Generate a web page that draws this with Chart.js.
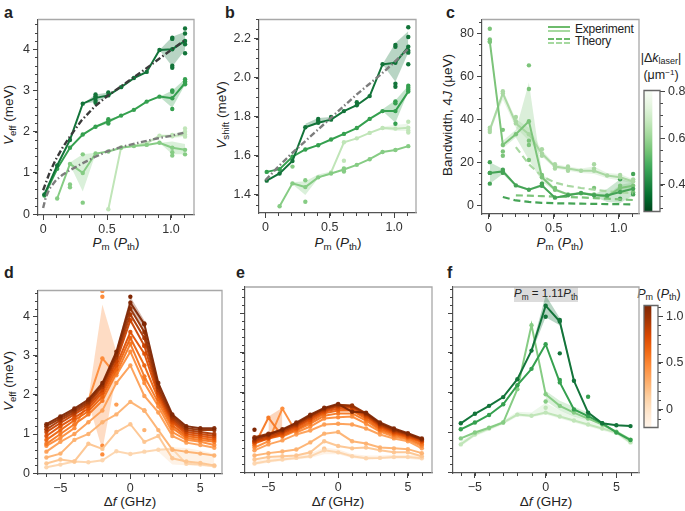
<!DOCTYPE html>
<html>
<head>
<meta charset="utf-8">
<script src="https://cdn.jsdelivr.net/npm/chart.js@4.4.1/dist/chart.umd.min.js"></script>
<style>
  body { margin: 0; background: #fff; width: 685px; height: 511px; position: relative; overflow: hidden;
         font-family: "Liberation Sans", Arial, sans-serif; color: #222; }
  canvas { position: absolute; }
  .t { position: absolute; font-size: 13.5px; white-space: nowrap; line-height: 1; }
  .t sub { font-size: 72%; vertical-align: -0.3em; line-height: 0; }
  .t sup { font-size: 65%; vertical-align: 0.5em; line-height: 0; }
  .c { transform: translate(-50%, -50%); }
  .rot { transform: translate(-50%, -50%) rotate(-90deg); }
  .lab { position: absolute; font-weight: bold; font-size: 16px; line-height: 1; }
</style>
</head>
<body>

<div class="lab" style="left:4px;top:5px">a</div>
<div class="lab" style="left:225px;top:5px">b</div>
<div class="lab" style="left:446px;top:5px">c</div>
<div class="lab" style="left:4px;top:265px">d</div>
<div class="lab" style="left:236px;top:265px">e</div>
<div class="lab" style="left:447px;top:265px">f</div>

<div class="t rot" style="left:9px;top:115px"><i>V</i><sub>eff</sub> (meV)</div>
<div class="t rot" style="left:222px;top:115px"><i>V</i><sub>shift</sub> (meV)</div>
<div class="t rot" style="left:448px;top:115px">Bandwidth, 4<i>J</i> (μeV)</div>
<div class="t rot" style="left:9px;top:381px"><i>V</i><sub>eff</sub> (meV)</div>

<div class="t c" style="left:116px;top:243px"><i>P</i><sub>m</sub> (<i>P</i><sub>th</sub>)</div>
<div class="t c" style="left:338px;top:243px"><i>P</i><sub>m</sub> (<i>P</i><sub>th</sub>)</div>
<div class="t c" style="left:560px;top:243px"><i>P</i><sub>m</sub> (<i>P</i><sub>th</sub>)</div>
<div class="t c" style="left:130px;top:502px">Δ<i>f</i> (GHz)</div>
<div class="t c" style="left:338px;top:502px">Δ<i>f</i> (GHz)</div>
<div class="t c" style="left:546px;top:502px">Δ<i>f</i> (GHz)</div>

<div class="t c" style="left:661px;top:58px;font-size:12.5px">|Δ<i>k</i><sub>laser</sub>|</div>
<div class="t c" style="left:661px;top:75px;font-size:12.5px">(μm<sup>−1</sup>)</div>
<div class="t c" style="left:659px;top:294px;font-size:12.5px"><i>P</i><sub>m</sub> (<i>P</i><sub>th</sub>)</div>

<!-- legend panel c -->
<div style="position:absolute;left:548px;top:26px;width:22px;height:2px;background:#6dbb6c"></div>
<div style="position:absolute;left:548px;top:30px;width:22px;height:2px;background:#a6d9a0"></div>
<div style="position:absolute;left:548px;top:38px;width:22px;border-top:2px dashed #6dbb6c"></div>
<div style="position:absolute;left:548px;top:42px;width:22px;border-top:2px dashed #a6d9a0"></div>
<div class="t" style="left:575px;top:23px;font-size:12px;letter-spacing:-0.2px">Experiment</div>
<div class="t" style="left:575px;top:35px;font-size:12px;letter-spacing:-0.2px">Theory</div>

<!-- annotation panel f -->
<div style="position:absolute;left:514px;top:287px;width:64px;height:15px;background:#dcdcdc"></div>
<div class="t c" style="left:546px;top:294px;font-size:11.5px"><i>P</i><sub>m</sub> = 1.11<i>P</i><sub>th</sub></div>

<canvas id="ca"></canvas>
<canvas id="cb"></canvas>
<canvas id="cc"></canvas>
<canvas id="cd"></canvas>
<canvas id="ce"></canvas>
<canvas id="cf"></canvas>
<canvas id="cbarC"></canvas>
<canvas id="cbarF"></canvas>

<script>
// ---------- data ----------
// pump power P_m in units of P_th (panels a-c)
const pm = [0.01, 0.11, 0.21, 0.31, 0.41, 0.51, 0.61, 0.71, 0.81, 0.91, 1.01, 1.11];
// detuning in GHz (panels d-f)
const df = [-6, -5, -4, -3, -2, -1, 0, 1, 2, 3, 4, 5, 6];

// panel a: V_eff, darkest -> lightest green
const aVeff = [
  [0.48, 1.18, 1.80, 2.68, 2.82, 2.88, 3.08, 3.30, 3.45, 3.98, 4.00, 4.20],
  [0.45, 1.10, 1.61, 1.93, 2.12, 2.25, 2.39, 2.53, 2.73, 2.85, 2.81, 3.18],
  [null, 0.38, 1.22, 1.00, 1.47, 1.52, 1.61, 1.65, 1.68, 1.73, 1.61, 1.56],
  [null, null, null, null, null, 0.12, 1.62, 1.66, 1.72, 1.90, 1.89, 1.93]
];
const aLo = [
  [null, null, null, 2.68, 2.72, 2.85, null, null, null, 3.98, 3.58, 3.98],
  [null, null, null, null, 2.10, 2.20, 2.38, null, null, 2.85, 2.58, 3.14],
  [null, 0.38, 1.20, 0.55, 1.45, null, null, null, null, 1.73, 1.45, 1.45],
  [null, null, null, null, null, null, null, null, null, 1.88, 1.84, 1.88]
];
const aHi = [
  [null, null, null, 2.68, 2.90, 2.95, null, null, null, 3.98, 4.30, 4.42],
  [null, null, null, null, 2.14, 2.30, 2.40, null, null, 2.85, 3.00, 3.28],
  [null, 0.38, 1.25, 1.45, 1.49, null, null, null, null, 1.73, 1.76, 1.70],
  [null, null, null, null, null, null, null, null, null, 1.92, 1.95, 2.02]
];
const aDots = [
  [[0.41, 2.90], [0.41, 2.86], [0.41, 2.75], [0.41, 2.70], [0.51, 2.95], [1.01, 4.28], [1.01, 4.25], [1.01, 3.60], [1.01, 3.55], [1.11, 4.50], [1.11, 4.38], [1.11, 4.12], [1.11, 3.90]],
  [[0.51, 2.30], [0.51, 2.20], [1.01, 3.00], [1.01, 2.97], [1.01, 2.55], [1.11, 3.27], [1.11, 3.22], [1.11, 3.15]],
  [[0.21, 0.72], [0.21, 0.65], [0.31, 1.45], [0.31, 0.28], [1.01, 1.50], [1.01, 1.42], [1.11, 1.45]],
  [[1.01, 1.92], [1.11, 2.08], [1.11, 2.00], [1.11, 1.88]]
];
// theory curves panel a
const aFitX = [0.0, 0.02, 0.05, 0.1, 0.15, 0.2, 0.3, 0.4, 0.5, 0.6, 0.7, 0.8, 0.9, 1.0, 1.11];
const aFitHigh = [0.58, 0.75, 1.00, 1.33, 1.60, 1.84, 2.27, 2.60, 2.86, 3.08, 3.30, 3.52, 3.75, 3.98, 4.22];
const aFitLow = [0.15, 0.40, 0.62, 0.82, 0.95, 1.05, 1.22, 1.38, 1.52, 1.62, 1.70, 1.77, 1.84, 1.90, 1.98];

// panel b: V_shift
const bVshift = [
  [1.473, 1.510, 1.574, 1.747, 1.770, 1.786, 1.830, 1.860, 1.907, 2.070, 2.078, 2.160],
  [1.518, 1.532, 1.596, 1.633, 1.655, 1.684, 1.713, 1.743, 1.790, 1.830, 1.830, 1.930],
  [null, 1.342, 1.459, 1.440, 1.490, 1.510, 1.530, 1.554, 1.583, 1.620, 1.630, 1.650],
  [null, null, null, null, null, 1.515, 1.670, 1.690, 1.718, 1.743, 1.740, 1.745]
];
const bLo = [
  [null, null, null, 1.745, 1.765, 1.780, null, null, null, 2.070, 1.980, 2.130],
  [null, null, null, null, null, null, null, null, null, 1.830, 1.770, 1.930],
  [null, null, 1.455, 1.400, 1.485, 1.505, null, null, null, null, null, null],
  [null, null, null, null, null, null, null, null, null, 1.738, 1.728, 1.728]
];
const bHi = [
  [null, null, null, 1.765, 1.795, 1.800, null, null, null, 2.070, 2.180, 2.240],
  [null, null, null, null, null, null, null, null, null, 1.840, 1.885, 1.960],
  [null, null, 1.465, 1.470, 1.505, 1.520, null, null, null, null, null, null],
  [null, null, null, null, null, null, null, null, null, 1.750, 1.760, 1.765]
];
const bDots = [
  [[0.41, 1.79], [0.41, 1.78], [0.51, 1.80], [0.71, 1.875], [1.01, 2.17], [1.01, 2.16], [1.01, 1.97], [1.01, 1.955], [1.11, 2.26], [1.11, 2.21], [1.11, 2.14], [1.11, 2.13], [1.11, 2.07]],
  [[1.01, 1.88], [1.01, 1.87], [1.01, 1.765], [1.11, 1.96], [1.11, 1.95], [1.11, 1.94]],
  [[0.21, 1.545], [0.31, 1.475], [0.31, 1.365], [0.61, 1.535], [0.61, 1.52]],
  [[0.61, 1.575], [1.11, 1.775], [1.11, 1.73], [1.11, 1.72]]
];
const bFitX = [0.0, 0.1, 0.2, 0.3, 0.4, 0.5, 0.6, 0.7, 0.8, 0.9, 1.0, 1.11];
const bFit = [1.475, 1.545, 1.61, 1.67, 1.73, 1.79, 1.85, 1.91, 1.965, 2.02, 2.08, 2.15];

// panel c: bandwidth 4J (μeV), experiment
const cBw = [
  [15.0, 15.7, 9.2, 7.2, 9.2, 3.5, 4.6, 5.7, 4.6, 4.5, 6.1, 7.6],
  [76.0, 28.0, 33.0, 39.0, 13.0, 7.2, 5.0, 5.5, 5.0, 4.0, 8.0, 9.0],
  [35.0, 52.0, 38.0, 33.0, 24.0, 18.0, 17.0, 16.0, 16.0, 13.8, 13.0, 11.0]
];
const cLo = [
  [10.0, 14.5, 8.5, 6.8, 8.5, 3.2, 4.2, 5.2, 4.0, 1.5, 1.0, 4.5],
  [74.0, 26.5, 31.5, 21.0, 11.0, 6.5, 4.5, 5.0, 4.5, 3.5, 6.5, 7.5],
  [33.5, 49.0, 36.0, 30.0, 22.5, 17.0, 16.0, 15.0, 14.5, 12.5, 11.5, 10.0]
];
const cHi = [
  [20.0, 16.8, 9.8, 7.6, 10.0, 3.8, 5.0, 6.2, 5.2, 7.5, 12.0, 11.0],
  [78.0, 30.0, 35.0, 57.0, 15.0, 8.0, 5.5, 6.0, 5.5, 4.5, 9.5, 10.5],
  [36.5, 53.5, 40.0, 36.0, 25.5, 19.0, 18.0, 17.0, 18.0, 15.0, 14.5, 12.0]
];
const cDots = [
  [[0.01, 20], [0.01, 15], [0.01, 10], [0.11, 16.5], [0.11, 15], [0.41, 10], [0.41, 9], [1.01, 12], [1.01, 3], [1.11, 14.5], [1.11, 5]],
  [[0.01, 82], [0.01, 77], [0.01, 76], [0.11, 35], [0.11, 25], [0.11, 23], [0.31, 65], [0.31, 54], [0.31, 30], [0.31, 28], [0.31, 21], [0.41, 14], [0.41, 10], [0.51, 8], [0.81, 8], [1.01, 9], [1.11, 6]],
  [[0.01, 36], [0.01, 34], [0.11, 53], [0.21, 41], [0.21, 39], [0.41, 26], [0.41, 23], [0.51, 19], [0.51, 17], [0.61, 18], [0.61, 16], [0.81, 19], [0.81, 17], [1.01, 14], [1.11, 12]]
];
// panel c: theory
const cTheory = [
  [null, 3.8, 2.2, 1.5, 1.1, 0.9, 0.8, 0.7, 0.6, 0.5, 0.45, 0.4],
  [null, null, 4.6, 4.4, 4.2, 4.0, 3.8, 3.6, 3.3, 3.0, 2.7, 2.4],
  [null, null, 27.0, 19.0, 13.5, 10.5, 9.0, 8.0, 7.2, 6.5, 6.0, 5.5]
];

// panels d/e: one row per P_m (same order as pm)
const dVeff = [
  [0.15, 0.22, 0.30, 0.28, 0.33, 0.56, 0.49, 0.55, 0.60, 0.62, 0.24, 0.22, 0.18],
  [0.25, 0.35, 0.30, 0.75, 0.62, 1.05, 1.25, 0.80, 0.95, 0.38, 0.30, 0.26, 0.20],
  [0.40, 0.50, 0.85, 1.00, 1.30, 1.50, 1.82, 1.60, 1.10, 0.60, 0.55, 0.50, 0.45],
  [0.55, 0.80, 1.00, 1.30, 1.60, 2.30, 2.75, 1.97, 1.55, 0.95, 0.78, 0.72, 0.65],
  [0.70, 0.90, 1.15, 1.85, 2.93, 2.50, 3.10, 2.30, 1.70, 1.05, 0.85, 0.80, 0.72],
  [0.75, 1.00, 1.25, 1.50, 1.85, 2.55, 3.30, 2.47, 1.80, 1.15, 0.90, 0.85, 0.80],
  [0.85, 1.10, 1.35, 1.58, 1.95, 2.65, 3.45, 2.75, 1.90, 1.22, 0.95, 0.90, 0.85],
  [0.95, 1.20, 1.42, 1.65, 2.05, 2.75, 3.60, 3.05, 1.98, 1.30, 1.00, 0.95, 0.90],
  [1.05, 1.28, 1.50, 1.72, 2.12, 2.85, 3.90, 3.25, 2.05, 1.35, 1.05, 1.00, 0.95],
  [1.12, 1.35, 1.55, 1.78, 2.20, 2.95, 4.05, 3.45, 2.12, 1.40, 1.10, 1.05, 1.00],
  [1.20, 1.40, 1.60, 1.83, 2.25, 3.02, 4.20, 3.60, 2.20, 1.45, 1.15, 1.10, 1.10],
  [1.25, 1.45, 1.65, 1.88, 2.30, 3.10, 4.35, 3.80, 2.30, 1.50, 1.20, 1.15, 1.15]
];
const dBand = [ // [row, lo, hi]
  [0, [null, null, null, null, null, null, null, null, 0.55, 0.22, 0.20, 0.18, 0.15], [null, null, null, null, null, null, null, null, 0.62, 0.66, 0.64, 0.58, 0.50]],
  [4, [null, null, null, 1.80, 0.60, 2.50, null, null, null, null, null, null, null], [null, null, null, 1.90, 4.30, 3.10, null, null, null, null, null, null, null]],
  [11, [null, null, null, null, null, 3.05, 4.25, 3.55, 2.25, null, null, null, null], [null, null, null, null, null, 3.15, 4.50, 3.90, 2.35, null, null, null, null]]
];
const dDots = [[4, -2, 4.65], [4, -2, 4.50], [4, -2, 0.70], [4, -2, 0.48], [11, 0, 4.50], [11, 1, 3.82], [6, 1, 3.25], [5, 1, 2.40], [3, -1, 1.75], [2, 1, 1.10], [3, 1, 1.60]];

const eVeff = [
  [0.22, 0.28, 0.32, 0.36, 0.40, 0.55, 0.50, 0.40, 0.35, 0.36, 0.38, 0.38, 0.35],
  [0.32, 0.38, 0.40, 0.42, 0.50, 0.78, 0.66, 0.60, 0.62, 0.55, 0.50, 0.50, 0.40],
  [0.42, 0.48, 0.52, 0.57, 0.75, 0.97, 1.01, 0.78, 0.72, 0.62, 0.60, 0.58, 0.48],
  [0.55, 0.70, 0.80, 0.95, 1.05, 1.20, 1.22, 1.20, 1.10, 0.95, 0.85, 0.78, 0.60],
  [0.62, 0.78, 1.60, 1.00, 1.15, 1.35, 1.38, 1.40, 1.22, 1.02, 0.90, 0.82, 0.66],
  [0.68, 1.37, 0.90, 1.05, 1.22, 1.42, 1.48, 1.48, 1.30, 1.06, 0.94, 0.85, 0.70],
  [0.72, 0.85, 0.93, 1.08, 1.27, 1.48, 1.55, 1.55, 1.35, 1.10, 0.97, 0.88, 0.75],
  [0.75, 0.85, 0.97, 1.12, 1.32, 1.52, 1.60, 1.58, 1.40, 1.14, 1.00, 0.90, 0.78],
  [0.78, 0.88, 1.00, 1.16, 1.36, 1.55, 1.65, 1.63, 1.43, 1.17, 1.02, 0.92, 0.80],
  [0.80, 0.92, 1.03, 1.19, 1.40, 1.58, 1.68, 1.66, 1.46, 1.20, 1.05, 0.95, 0.82],
  [0.88, 0.97, 1.06, 1.22, 1.42, 1.60, 1.70, 1.68, 1.48, 1.22, 1.07, 0.96, 0.83],
  [0.85, 0.95, 1.08, 1.25, 1.45, 1.62, 1.72, 1.52, 1.50, 1.25, 1.10, 0.98, 0.85]
];
const eBand = [
  [5, [null, 0.85, 0.90, null, null, null, null, null, null, null, null, null, null], [null, 1.40, 1.62, null, null, null, null, null, null, null, null, null, null]],
  [0, [0.18, 0.24, 0.28, 0.32, 0.36, 0.45, 0.45, 0.36, 0.32, 0.33, 0.34, 0.34, 0.30], [0.28, 0.34, 0.38, 0.42, 0.48, 0.62, 0.58, 0.46, 0.42, 0.42, 0.44, 0.44, 0.42]]
];
const eDots = [[1, -1, 0.58], [0, -1, 0.60], [11, -6, 1.07], [11, 1, 1.58]];

// panel f: P_m = 1.11 P_th, green series dark -> light
const fVeff = [
  [1.23, 1.47, 1.67, 1.89, 2.34, 3.06, 4.19, 3.79, 2.30, 1.50, 1.23, 1.18, 1.16],
  [1.08, 1.25, 1.44, 1.71, 2.19, 2.60, 3.22, 2.26, 1.58, 1.41, 1.23, 1.00, 0.81],
  [0.85, 1.00, 1.12, 1.25, 2.09, 3.70, 1.96, 1.67, 1.50, 1.35, 1.20, 1.02, 0.82],
  [0.70, 0.95, 1.10, 1.25, 1.45, 1.42, 1.50, 1.40, 1.30, 1.20, 1.10, 1.00, 0.75]
];
const fLo = [
  [null, null, null, null, null, 3.00, 3.90, 3.70, 2.25, null, null, null, null],
  [null, null, null, null, null, null, null, null, null, null, null, null, null],
  [null, null, null, null, null, null, 1.80, 1.55, 1.40, 1.30, null, null, null],
  [0.65, 0.90, 1.05, 1.20, 1.40, 1.38, 1.45, 1.35, 1.25, 1.15, 1.05, 0.95, 0.70]
];
const fHi = [
  [null, null, null, null, null, 3.12, 4.45, 3.88, 2.35, null, null, null, null],
  [null, null, null, null, null, null, null, null, null, null, null, null, null],
  [null, null, null, null, null, null, 2.05, 1.80, 1.65, 1.50, null, null, null],
  [0.78, 1.00, 1.15, 1.30, 1.52, 1.50, 1.75, 1.55, 1.42, 1.30, 1.18, 1.05, 0.85]
];
const fDots = [
  [[0, 3.91], [1, 2.99], [1, 3.83]],
  [[3, 1.90], [1, 2.32]],
  [[0, 1.78]],
  [[0, 1.62]]
];

// colour bars
const cbarC = [0.285, 0.804];
const cbarF = [-0.19, 1.113];

// ---------- styling helpers ----------
const FONT = '"Liberation Sans", Arial, sans-serif';
const GREENS = ['#f7fcf5', '#e5f5e0', '#c7e9c0', '#a1d99b', '#74c476', '#41ab5d', '#238b45', '#006d2c', '#00441b'];
const ORANGES = ['#fff5eb', '#fee6ce', '#fdd0a2', '#fdae6b', '#fd8d3c', '#f16913', '#d94801', '#a63603', '#7f2704'];
const greenABF = ['#13743a', '#35a04f', '#86cc84', '#c0e5b8'];
const greenC = ['#45a456', '#7cc47a', '#a9d8a2'];

function hexRgb(h) { return [1, 3, 5].map(i => parseInt(h.substr(i, 2), 16)); }
function cmap(stops, t) {
  t = Math.max(0, Math.min(1, t));
  const f = t * (stops.length - 1), i = Math.min(stops.length - 2, Math.floor(f)), u = f - i;
  const a = hexRgb(stops[i]), b = hexRgb(stops[i + 1]);
  return a.map((v, k) => Math.round(v + (b[k] - v) * u));
}
function rgba(c, al) { return `rgba(${c[0]},${c[1]},${c[2]},${al})`; }
function hexA(h, al) { return rgba(hexRgb(h), al); }
function orangeFor(p) { return cmap(ORANGES, 0.22 + 0.78 * (p - 0.01) / 1.1); }

function line(xs, ys, color, extra) {
  return Object.assign({
    type: 'line', data: xs.map((x, i) => ({ x, y: ys[i] })),
    borderColor: color, backgroundColor: color, borderWidth: 2, pointRadius: 2.2,
    pointBorderWidth: 0, pointHoverRadius: 0, fill: false, tension: 0, spanGaps: false
  }, extra || {});
}
function band(xs, lo, hi, fillColor) {
  return [
    { type: 'line', data: xs.map((x, i) => ({ x, y: hi[i] })), borderWidth: 0, borderColor: 'rgba(0,0,0,0)',
      pointRadius: 0, fill: '+1', backgroundColor: fillColor, tension: 0, spanGaps: false },
    { type: 'line', data: xs.map((x, i) => ({ x, y: lo[i] })), borderWidth: 0, borderColor: 'rgba(0,0,0,0)',
      pointRadius: 0, fill: false, tension: 0, spanGaps: false }
  ];
}
function dots(pairs, color) {
  return { type: 'scatter', data: pairs.map(p => ({ x: p[0], y: p[1] })), backgroundColor: color,
           borderWidth: 0, pointRadius: 2.2, pointHoverRadius: 0 };
}

// minor ticks + grey frame on top/right
const framePlugin = {
  id: 'frame',
  afterDraw(chart, args, opts) {
    const ctx = chart.ctx, ca = chart.chartArea;
    ctx.save();
    ctx.strokeStyle = '#444'; ctx.lineWidth = 1;
    for (const key of ['x', 'y']) {
      const s = chart.scales[key], step = opts[key];
      if (!s || !step) continue;
      const k0 = Math.ceil(s.min / step - 1e-6);
      for (let k = k0; k * step <= s.max + 1e-6; k++) {
        const p = Math.round(s.getPixelForValue(k * step)) + 0.5;
        ctx.beginPath();
        if (key === 'x') { ctx.moveTo(p, ca.bottom); ctx.lineTo(p, ca.bottom + 3); }
        else if (s.position === 'right') { ctx.moveTo(ca.right, p); ctx.lineTo(ca.right + 3, p); }
        else { ctx.moveTo(ca.left, p); ctx.lineTo(ca.left - 3, p); }
        ctx.stroke();
      }
    }
    ctx.strokeStyle = opts.color || '#a8a8a8'; ctx.lineWidth = 1.3;
    ctx.beginPath();
    if (opts.all) { ctx.rect(ca.left, ca.top, ca.right - ca.left, ca.bottom - ca.top); }
    else { ctx.moveTo(ca.left, ca.top); ctx.lineTo(ca.right, ca.top); ctx.lineTo(ca.right, ca.bottom); }
    ctx.stroke();
    ctx.restore();
  }
};

function makeChart(id, area, xr, yr, datasets, o) {
  const yw = o.yw, xh = 20, pad = 8;
  const cv = document.getElementById(id);
  const w = area[2] - area[0] + yw + pad, h = area[3] - area[1] + pad + xh;
  cv.width = w; cv.height = h;
  cv.style.left = (area[0] - yw) + 'px'; cv.style.top = (area[1] - pad) + 'px';
  cv.style.width = w + 'px'; cv.style.height = h + 'px';
  return new Chart(cv, {
    data: { datasets },
    options: {
      responsive: false, animation: false, devicePixelRatio: 1,
      layout: { padding: { top: pad, right: pad, left: 0, bottom: 0 } },
      plugins: { legend: { display: false }, tooltip: { enabled: false }, frame: { x: o.xMinor, y: o.yMinor } },
      scales: {
        x: {
          type: 'linear', min: xr[0], max: xr[1],
          afterFit: s => { s.height = xh; },
          border: { color: '#555', width: 1.2 },
          grid: { drawOnChartArea: false, tickLength: 5, tickColor: '#444' },
          ticks: { stepSize: o.xStep, includeBounds: false, color: '#333', padding: 2,
                   font: { family: FONT, size: 12.5 }, maxRotation: 0, callback: o.xFmt }
        },
        y: {
          type: 'linear', min: yr[0], max: yr[1],
          afterFit: s => { s.width = yw; },
          border: { color: '#555', width: 1.2 },
          grid: { drawOnChartArea: false, tickLength: 5, tickColor: '#444' },
          ticks: { stepSize: o.yStep, includeBounds: false, color: '#333', padding: 3, display: o.yLabels !== false,
                   font: { family: FONT, size: 12.5 }, callback: o.yFmt }
        }
      }
    },
    plugins: [framePlugin]
  });
}

const fmt1 = v => (Math.abs(v) < 1e-9 ? '0' : v.toFixed(1));
const fmtInt = v => (v < 0 ? '\u2212' + Math.abs(Math.round(v)) : String(Math.round(v)));

// ---------- panel a ----------
{
  const ds = [];
  ds.push(line(aFitX, aFitHigh, '#3a3a3a', { pointRadius: 0, borderWidth: 2.4, borderDash: [6, 2.5, 1.5, 2.5] }));
  ds.push(line(aFitX, aFitLow, '#7d7d7d', { pointRadius: 0, borderWidth: 2.4, borderDash: [6, 2.5, 1.5, 2.5] }));
  aVeff.forEach((ys, i) => ds.push(line(pm, ys, greenABF[i])));
  aDots.forEach((p, i) => ds.push(dots(p, greenABF[i])));
  aVeff.forEach((ys, i) => ds.push(...band(pm, aLo[i], aHi[i], hexA(greenABF[i], 0.3))));
  makeChart('ca', [38, 17, 194, 215], [-0.04, 1.18], [-0.02, 4.72], ds,
    { yw: 28, xStep: 0.5, yStep: 1, xMinor: 0.1, yMinor: 0.2, xFmt: fmt1, yFmt: fmtInt });
}

// ---------- panel b ----------
{
  const ds = [];
  ds.push(line(bFitX, bFit, '#7d7d7d', { pointRadius: 0, borderWidth: 2.4, borderDash: [6, 2.5, 1.5, 2.5] }));
  bVshift.forEach((ys, i) => ds.push(line(pm, ys, greenABF[i])));
  bDots.forEach((p, i) => ds.push(dots(p, greenABF[i])));
  bVshift.forEach((ys, i) => ds.push(...band(pm, bLo[i], bHi[i], hexA(greenABF[i], 0.3))));
  makeChart('cb', [259, 17, 416, 213], [-0.05, 1.17], [1.307, 2.30], ds,
    { yw: 30, xStep: 0.5, yStep: 0.2, xMinor: 0.1, yMinor: 0.05, xFmt: fmt1, yFmt: fmt1 });
}

// ---------- panel c ----------
{
  const ds = [];
  cBw.forEach((ys, i) => ds.push(line(pm, ys, greenC[i])));
  cTheory.forEach((ys, i) => ds.push(line(pm, ys, greenC[i], { pointRadius: 0, borderWidth: 2.2, borderDash: [7, 4] })));
  cDots.forEach((p, i) => ds.push(dots(p, greenC[i])));
  cBw.forEach((ys, i) => ds.push(...band(pm, cLo[i], cHi[i], hexA(greenC[i], 0.28))));
  makeChart('cc', [482, 17, 639, 214], [-0.05, 1.155], [-4.1, 86.3], ds,
    { yw: 28, xStep: 0.5, yStep: 20, xMinor: 0.1, yMinor: 5, xFmt: fmt1, yFmt: fmtInt });
}

// ---------- panels d & e ----------
function orangePanel(id, area, xr, rows, bands, pts, yLabels) {
  const ds = [];
  for (let i = rows.length - 1; i >= 0; i--) {
    const c = orangeFor(pm[i]);
    ds.push(line(df, rows[i], rgba(c, 0.95)));
  }
  pts.forEach(p => ds.push(dots([[p[1], p[2]]], rgba(orangeFor(pm[p[0]]), 1))));
  bands.forEach(b => ds.push(...band(df, b[1], b[2], rgba(orangeFor(pm[b[0]]), 0.3))));
  makeChart(id, area, xr, [-0.02, 4.66], ds,
    { yw: yLabels ? 28 : 10, xStep: 5, yStep: 1, xMinor: 1, yMinor: 0.2, xFmt: fmtInt, yFmt: fmtInt, yLabels });
}
orangePanel('cd', [38, 288, 222, 474], [-6.6, 6.55], dVeff, dBand, dDots, true);
orangePanel('ce', [245, 287, 432, 473], [-6.68, 6.73], eVeff, eBand, eDots, false);

// ---------- panel f ----------
{
  const ds = [];
  fVeff.forEach((ys, i) => ds.push(line(df, ys, greenABF[i])));
  fDots.forEach((p, i) => ds.push(dots(p, greenABF[i])));
  fVeff.forEach((ys, i) => ds.push(...band(df, fLo[i], fHi[i], hexA(greenABF[i], 0.3))));
  makeChart('cf', [453, 287, 639, 473], [-6.55, 6.6], [-0.02, 4.66], ds,
    { yw: 10, xStep: 5, yStep: 1, xMinor: 1, yMinor: 0.2, xFmt: fmtInt, yFmt: fmtInt, yLabels: false });
}

// ---------- colour bars ----------
function colorBar(id, area, range, stops, reverse, step, minor, fmt) {
  const cv = document.getElementById(id);
  const yw = 30, pad = 8;
  const w = area[2] - area[0] + yw + 2, h = area[3] - area[1] + 2 * pad;
  cv.width = w; cv.height = h;
  cv.style.left = (area[0] - 2) + 'px'; cv.style.top = (area[1] - pad) + 'px';
  cv.style.width = w + 'px'; cv.style.height = h + 'px';
  new Chart(cv, {
    type: 'bar',
    data: { labels: [''], datasets: [{
      data: [range],
      barPercentage: 1, categoryPercentage: 1, borderWidth: 0,
      backgroundColor: ctx => {
        const ca = ctx.chart.chartArea;
        if (!ca) return '#ccc';
        const g = ctx.chart.ctx.createLinearGradient(0, ca.bottom, 0, ca.top);
        for (let k = 0; k <= 20; k++) {
          const t = k / 20;
          g.addColorStop(t, rgba(cmap(stops, reverse ? 1 - t : t), 1));
        }
        return g;
      }
    }] },
    options: {
      responsive: false, animation: false, devicePixelRatio: 1,
      layout: { padding: { top: pad, bottom: pad, left: 2, right: 0 } },
      plugins: { legend: { display: false }, tooltip: { enabled: false }, frame: { y: minor, all: true, color: '#666' } },
      scales: {
        x: { display: false, offset: false },
        y: {
          position: 'right', min: range[0], max: range[1],
          afterFit: s => { s.width = yw; },
          border: { display: false },
          grid: { drawOnChartArea: false, tickLength: 5, tickColor: '#444' },
          ticks: { stepSize: step, includeBounds: false, color: '#333', padding: 3,
                   font: { family: FONT, size: 12.5 }, callback: fmt }
        }
      }
    },
    plugins: [framePlugin]
  });
}
colorBar('cbarC', [644, 88, 660, 214], cbarC, GREENS, true, 0.2, 0.05, v => v.toFixed(1));
colorBar('cbarF', [644, 303, 658, 430], cbarF, ORANGES, false, 0.5, 0.1, fmt1);
</script>
</body>
</html>
